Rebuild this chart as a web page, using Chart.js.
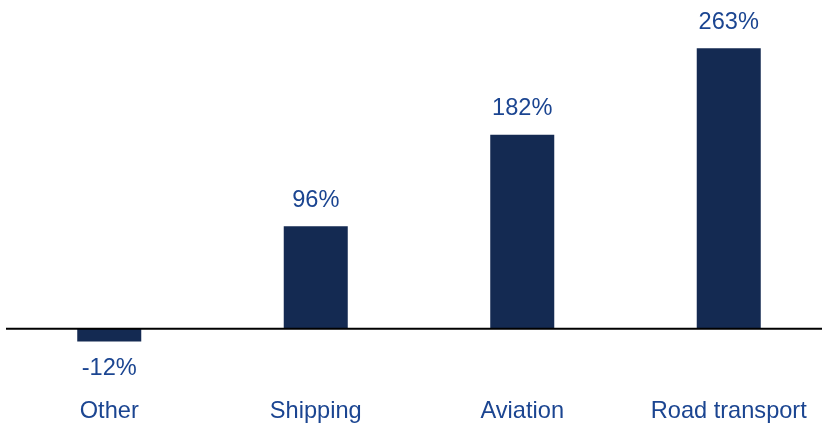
<!DOCTYPE html>
<html>
<head>
<meta charset="utf-8">
<script src="https://cdn.jsdelivr.net/npm/chart.js@4.4.1/dist/chart.umd.min.js"></script>
<style>
  html, body { margin: 0; padding: 0; background: #ffffff; overflow: hidden; }
  #wrap { width: 822px; height: 425px; overflow: hidden; position: relative; }
  #box { width: 832px; height: 425px; position: absolute; left: 0; top: 0; }
</style>
</head>
<body>
<div id="wrap"><div id="box"><canvas id="c"></canvas></div></div>
<script>
const categories = ["Other", "Shipping", "Aviation", "Road transport"];
const values = [-12, 96, 182, 263];
const valueLabels = ["-12%", "96%", "182%", "263%"];

const BAR_COLOR = "#142a52";
const TEXT_COLOR = "#1b4591";
const FONT = "23.6px 'Liberation Sans', Arial, sans-serif";

const labelPlugin = {
  id: "labels",
  afterDatasetsDraw(chart) {
    const ctx = chart.ctx;
    const x = chart.scales.x;
    const y = chart.scales.y;
    const area = chart.chartArea;
    const y0 = y.getPixelForValue(0);
    ctx.save();
    ctx.strokeStyle = "#000000";
    ctx.lineWidth = 2;
    ctx.beginPath();
    ctx.moveTo(area.left, y0);
    ctx.lineTo(area.right, y0);
    ctx.stroke();
    ctx.fillStyle = TEXT_COLOR;
    ctx.font = FONT;
    ctx.textAlign = "center";
    ctx.textBaseline = "middle";
    const meta = chart.getDatasetMeta(0);
    meta.data.forEach((bar, i) => {
      const v = values[i];
      const py = y.getPixelForValue(v);
      const ly = v >= 0 ? py - 26 : py + 27;
      ctx.fillText(valueLabels[i], bar.x, ly);
    });
    categories.forEach((c, i) => {
      ctx.fillText(c, x.getPixelForValue(i), 411);
    });
    ctx.restore();
  }
};

const pxPerUnit = 280.4 / 263;
const zeroY = 328.7;

new Chart(document.getElementById("c"), {
  type: "bar",
  data: {
    labels: categories,
    datasets: [{
      data: values,
      backgroundColor: BAR_COLOR,
      borderWidth: 0,
      barPercentage: 0.62,
      categoryPercentage: 0.5
    }]
  },
  options: {
    responsive: true,
    maintainAspectRatio: false,
    animation: false,
    layout: { padding: { left: 6, right: 0, top: 0, bottom: 0 } },
    plugins: { legend: { display: false }, tooltip: { enabled: false } },
    scales: {
      x: { display: false },
      y: {
        display: false,
        min: -(425 - zeroY) / pxPerUnit,
        max: zeroY / pxPerUnit
      }
    }
  },
  plugins: [labelPlugin]
});
</script>
</body>
</html>
